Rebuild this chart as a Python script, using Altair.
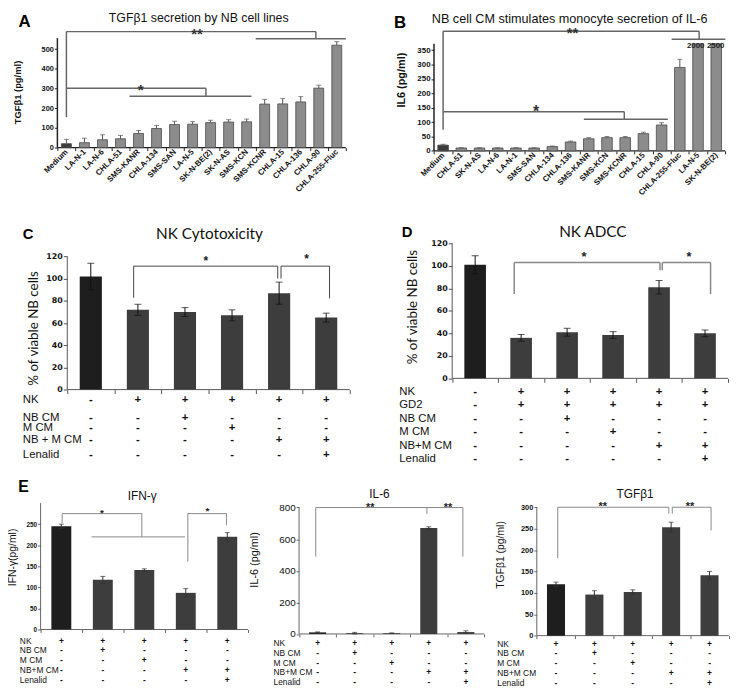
import json
import altair as alt
import pandas as pd

# ---------------- data ----------------
A_cats = ["Medium", "LA-N-1", "LA-N-6", "CHLA-51", "SMS-KANR", "CHLA-134", "SMS-SAN", "LA-N-5",
          "SK-N-BE(2)", "SK-N-AS", "SMS-KCN", "SMS-KCNR", "CHLA-15", "CHLA-136", "CHLA-90", "CHLA-255-Fluc"]
A_vals = [20, 25, 40, 45, 72, 97, 117, 119, 127, 130, 131, 221, 222, 232, 302, 520]
A_errs = [22, 23, 25, 17, 15, 15, 17, 13, 12, 12, 14, 24, 27, 27, 15, 18]

B_cats = ["Medium", "CHLA-51", "SK-N-AS", "LA-N-6", "LA-N-1", "SMS-SAN", "CHLA-134", "CHLA-136",
          "SMS-KANR", "SMS-KCN", "SMS-KCNR", "CHLA-15", "CHLA-90", "CHLA-255-Fluc", "LA-N-5", "SK-N-BE(2)"]
B_vals = [20, 10, 10, 10, 10, 10, 15, 31, 42, 46, 46, 60, 90, 290, 2000, 2500]
B_errs = [3, 1, 1, 1, 1, 1, 2, 3, 4, 4, 4, 5, 8, 28, 0, 0]

C_vals = [102, 72, 70, 67, 87, 65]
C_errs = [12, 5, 4, 5, 10, 4]
C_rows = ["NK", "NB CM", "M CM", "NB + M CM", "Lenalid"]
C_table = [["-", "+", "+", "+", "+", "+"],
           ["-", "-", "+", "-", "-", "-"],
           ["-", "-", "-", "+", "-", "-"],
           ["-", "-", "-", "-", "+", "+"],
           ["-", "-", "-", "-", "-", "+"]]

D_vals = [101, 36, 41, 38.5, 81, 40]
D_errs = [8, 3, 3.5, 3, 6, 3]
D_rows = ["NK", "GD2", "NB CM", "M CM", "NB+M CM", "Lenalid"]
D_table = [["-", "+", "+", "+", "+", "+"],
           ["-", "+", "+", "+", "+", "+"],
           ["-", "-", "+", "-", "-", "-"],
           ["-", "-", "-", "+", "-", "-"],
           ["-", "-", "-", "-", "+", "+"],
           ["-", "-", "-", "-", "-", "+"]]

E_rows = ["NK", "NB CM", "M CM", "NB+M CM", "Lenalid"]
E_table = [["+", "+", "+", "+", "+"],
           ["-", "+", "-", "-", "-"],
           ["-", "-", "+", "-", "-"],
           ["-", "-", "-", "+", "+"],
           ["-", "-", "-", "-", "+"]]
IFN_vals = [245, 118, 141, 87, 220]
IFN_errs = [5, 8, 3, 10, 10]
IL6_vals = [10, 5, 5, 670, 12]
IL6_errs = [3, 5, 2, 8, 8]
TGF_vals = [120, 96, 102, 253, 141]
TGF_errs = [5, 9, 5, 12, 9]

# significance brackets (category index units, value units)
A_br = [[0.5, 589, 14.34, 589], [0.5, 589, 0.5, 155], [14.34, 589, 14.34, 553], [11.0, 553, 16.0, 553],
        [0.5, 301, 8.24, 301], [8.24, 301, 8.24, 261], [4.0, 261, 10.77, 261]]
B_br = [[0.5, 416, 14.56, 416], [0.5, 416, 0.5, 73], [14.56, 416, 14.56, 388], [13.05, 388, 16.0, 388],
        [0.5, 136, 10.45, 136], [10.45, 136, 10.45, 110], [8.23, 110, 12.84, 110]]
C_br = [[1.41, 111.4, 4.47, 111.4], [1.41, 111.4, 1.41, 82.9], [4.47, 111.4, 4.47, 100.2],
        [4.54, 111.4, 5.57, 111.4], [4.54, 111.4, 4.54, 100.2], [5.57, 111.4, 5.57, 82.3]]
D_br = [[1.35, 103, 4.52, 103], [1.35, 103, 1.35, 75], [4.52, 103, 4.52, 96],
        [4.57, 103, 5.62, 103], [4.57, 103, 4.57, 96], [5.62, 103, 5.62, 75]]
E1_br = [[0.52, 275, 2.44, 275], [0.52, 275, 0.52, 252.6], [2.44, 275, 2.44, 219.8], [1.23, 219.8, 3.48, 219.8],
         [3.55, 275, 4.48, 275], [3.55, 275, 3.55, 161], [4.48, 275, 4.48, 247.3]]
E2_br = [[0.45, 800, 3.45, 800], [0.45, 800, 0.45, 490], [3.45, 800, 3.45, 760],
         [3.45, 800, 4.42, 800], [4.42, 800, 4.42, 490]]
E3_br = [[0.545, 300, 3.44, 300], [0.545, 300, 0.545, 181], [3.44, 300, 3.44, 285],
         [3.53, 300, 4.54, 300], [3.53, 300, 3.53, 285], [4.54, 300, 4.54, 246]]

ARIAL = "Liberation Sans"
CALI = "Lato"
VERD = "DejaVu Sans"


def T(x, y, t, font=ARIAL, size=12, weight="normal", color="#111", align="center", baseline="middle"):
    return dict(x=x, y=y, t=t, font=font, size=size, weight=weight, color=color, align=align, baseline=baseline)


def make_panel(p):
    vals, errs = p["vals"], p["errs"]
    n = len(vals)
    band = (p["ax_r"] - p["ax_l"]) / n
    ppu = p["ppu"]
    width = p["ax_r"] - p["orig"]
    height = p["base"] - p["row_top"]
    ext = float(p["ax_l"] - p["orig"])
    xs = alt.Scale(domain=[-ext / band, n], nice=False, zero=False, padding=0)
    ys = alt.Scale(domain=[0, height / ppu], nice=False, zero=False, padding=0)
    top = p["ax_top_val"]
    axc = p["axis_c"]

    bw = p["bw"]
    bdf = pd.DataFrame({"i": list(range(n)), "v": vals, "e": errs,
                        "col": [p["c0"]] + [p["c1"]] * (n - 1)})
    bdf["lo"] = bdf["i"] + (1 - bw) / 2
    bdf["hi"] = bdf["i"] + 1 - (1 - bw) / 2
    bdf["c"] = bdf["i"] + 0.5
    bdf["z"] = 0
    bdf["d"] = bdf["v"].clip(upper=top)   # bars running off the axis are cut at its top

    yk = dict(values=p["yticks"], domain=False, grid=False, ticks=True, tickSize=p["ytick"],
              tickColor=axc, labels=True,
              labelFont=p["ylab_font"], labelFontSize=p["ylab_size"], labelFontWeight=p["ylab_w"],
              labelColor="#111", labelPadding=1, labelFlush=False,
              title=p["ytitle"], titleFont=p["yt_font"], titleFontSize=p["yt_size"],
              titleFontWeight=p["yt_w"], titleColor="#111", titleX=p["yt_x"], titleY=p["yt_y"],
              titleAngle=270, titleAlign="center", titleBaseline="middle", orient="left")
    if ext > 0:
        yk["offset"] = -ext
    yaxis = alt.Axis(**yk)
    xtick_axis = alt.Axis(values=list(range(n + 1)), labels=False, domain=False, grid=False, ticks=True,
                          tickSize=p["xtick"], tickColor=axc, title=None, orient="bottom")

    layers = []

    # axis lines
    adf = pd.DataFrame([[0, 0, n, 0], [0, 0, 0, top]], columns=["x1", "y1", "x2", "y2"])
    layers.append(alt.Chart(adf).mark_rule(color=axc, strokeWidth=p["axis_w"]).encode(
        x=alt.X("x1:Q", scale=xs, axis=None), x2="x2:Q",
        y=alt.Y("y1:Q", scale=ys, axis=None), y2="y2:Q"))

    bar_kw = {}
    if p.get("bar_stroke"):
        bar_kw = dict(stroke=p["bar_stroke"], strokeWidth=0.8)
    layers.append(alt.Chart(bdf).mark_bar(orient="vertical", **bar_kw).encode(
        x=alt.X("lo:Q", scale=xs, axis=None),
        x2="hi:Q",
        y=alt.Y("d:Q", scale=ys, axis=None, stack=None),
        y2="z:Q",
        color=alt.Color("col:N", scale=None),
    ))

    # layer that carries the tick axes
    layers.append(alt.Chart(bdf).mark_tick(orient="horizontal", size=0.1, thickness=0.1, opacity=0).encode(
        x=alt.X("c:Q", scale=xs, axis=xtick_axis),
        y=alt.Y("z:Q", scale=ys, axis=yaxis)))

    edf = bdf[bdf["e"] > 0].copy()
    edf["top"] = edf["v"] + edf["e"]
    edf["bot"] = edf["v"] - edf["e"] if p["two_sided"] else edf["v"]
    label_axis = None
    if p.get("cats"):
        label_axis = alt.Axis(values=[i + 0.5 for i in range(n)],
                              labelExpr=json.dumps(p["cats"]) + "[floor(datum.value)]",
                              ticks=False, tickSize=0, domain=False, grid=False, labelAngle=-45,
                              labelAlign="right", labelBaseline="middle", labelFont=ARIAL,
                              labelFontSize=p["xlab_size"], labelFontWeight="bold", labelColor="#111",
                              labelPadding=3, labelOverlap=False, labelFlush=False, title=None,
                              orient="bottom")
    layers.append(alt.Chart(edf).mark_rule(color=p["err_c"], strokeWidth=1).encode(
        x=alt.X("c:Q", scale=xs, axis=label_axis),
        y=alt.Y("bot:Q", scale=ys, axis=None), y2="top:Q"))
    layers.append(alt.Chart(edf).mark_tick(orient="horizontal", size=p["cap"], thickness=1,
                                           color=p["err_c"]).encode(
        x=alt.X("c:Q", scale=xs, axis=None), y=alt.Y("top:Q", scale=ys, axis=None)))
    if p["two_sided"]:
        layers.append(alt.Chart(edf).mark_tick(orient="horizontal", size=p["cap"], thickness=1,
                                               color=p["err_c"]).encode(
            x=alt.X("c:Q", scale=xs, axis=None), y=alt.Y("bot:Q", scale=ys, axis=None)))

    # brackets
    gdf = pd.DataFrame(p["brackets"], columns=["x1", "y1", "x2", "y2"])
    layers.append(alt.Chart(gdf).mark_rule(color=p["br_c"], strokeWidth=p["br_w"]).encode(
        x=alt.X("x1:Q", scale=xs, axis=None), x2="x2:Q",
        y=alt.Y("y1:Q", scale=ys, axis=None), y2="y2:Q"))

    # texts
    for t in p["texts"]:
        tdf = pd.DataFrame([{"x": t["x"], "y": t["y"], "t": t["t"]}])
        layers.append(alt.Chart(tdf).mark_text(font=t["font"], fontSize=t["size"], fontWeight=t["weight"],
                                               color=t["color"], align=t["align"],
                                               baseline=t["baseline"]).encode(
            x=alt.X("x:Q", scale=xs, axis=None), y=alt.Y("y:Q", scale=ys, axis=None), text="t:N"))

    # condition table
    if p.get("rows"):
        rys = [-o / ppu for o in p["row_off"]]
        ldf = pd.DataFrame({"x": [p["row_x"]] * len(p["rows"]), "y": rys, "t": p["rows"]})
        sdf = pd.DataFrame([{"x": c + 0.5, "y": rys[r], "t": s}
                            for r, row in enumerate(p["table"]) for c, s in enumerate(row)])
        layers.append(alt.Chart(ldf).mark_text(font=ARIAL, fontSize=p["tab_size"], color="#111",
                                               align="left", baseline="middle").encode(
            x=alt.X("x:Q", scale=xs, axis=None), y=alt.Y("y:Q", scale=ys, axis=None), text="t:N"))
        layers.append(alt.Chart(sdf).mark_text(font=ARIAL, fontSize=p["tab_size"], fontWeight="bold",
                                               color="#111", align="center", baseline="middle").encode(
            x=alt.X("x:Q", scale=xs, axis=None), y=alt.Y("y:Q", scale=ys, axis=None), text="t:N"))

    return alt.layer(*layers).resolve_axis(x="independent", y="independent").properties(
        width=width, height=height, view=alt.ViewBackground(stroke="transparent", strokeWidth=0))


GRAY_A = dict(c0="#3d3d3d", c1="#8c8c8c", bar_stroke="#4a4a4a", err_c="#555", two_sided=False,
              axis_c="#222", axis_w=1.5, br_c="#666", br_w=1.5, xtick=3, ytick=3, cap=5)
DARK = dict(c0="#1e1e1e", c1="#3d3d3d", err_c="#111", two_sided=True)

pA = dict(GRAY_A, vals=A_vals, errs=A_errs, cats=A_cats, orig=35, ax_l=52, ax_r=344, base=138, ppu=0.1994,
          row_top=32.9, ax_top_val=556, bw=0.55, yticks=[0, 100, 200, 300, 400, 500],
          ylab_font=ARIAL, ylab_size=7.5, ylab_w="bold", ytitle="TGFβ1 (pg/ml)", yt_font=ARIAL, yt_size=9.5,
          yt_w="bold", yt_x=-40.7, yt_y=48.8, xlab_size=8, brackets=A_br,
          texts=[T(-1.82, 640, "A", size=17, weight="bold", color="#000"),
                 T(7.84, 656, "TGFβ1 secretion by NB cell lines", size=12.5),
                 T(7.74, 554, "**", size=15, weight="bold", color="#333", baseline="alphabetic"),
                 T(4.62, 267, "*", size=15.5, weight="bold", color="#333", baseline="alphabetic")])

pB = dict(GRAY_A, vals=B_vals, errs=B_errs, cats=B_cats, orig=344, ax_l=433.3, ax_r=728.3, base=141.3,
          ppu=0.2914, row_top=32.9, ax_top_val=372, bw=0.58, yticks=[0, 50, 100, 150, 200, 250, 300, 350],
          ylab_font=ARIAL, ylab_size=8, ylab_w="bold", ytitle="IL6 (pg/ml)", yt_font=ARIAL, yt_size=11,
          yt_w="bold", yt_x=-32.8, yt_y=36.3, xlab_size=8, brackets=B_br,
          texts=[T(-1.86, 445, "B", size=17, weight="bold", color="#000"),
                 T(7.45, 459, "NB cell CM stimulates monocyte secretion of IL-6", size=12.8),
                 T(7.61, 390.5, "**", size=15, weight="bold", color="#333", baseline="alphabetic"),
                 T(5.61, 119.4, "*", size=16, weight="bold", color="#333", baseline="alphabetic"),
                 T(14.37, 364.8, "2000", size=8, weight="bold", color="#222"),
                 T(15.47, 364.8, "2500", size=8, weight="bold", color="#222")])

pC = dict(DARK, vals=C_vals, errs=C_errs, orig=35, ax_l=62, ax_r=348, base=385.7, ppu=1.122, row_top=237.6,
          ax_top_val=120, bw=0.47, yticks=[0, 20, 40, 60, 80, 100, 120], ylab_font=VERD, ylab_size=8,
          ylab_w="bold", ytitle="% of viable NB cells", yt_font=CALI, yt_size=13.5, yt_w="normal",
          yt_x=-34.5, yt_y=85.7, axis_c="#555", axis_w=1, br_c="#444", br_w=1, xtick=4, ytick=4, cap=7,
          brackets=C_br, rows=C_rows, table=C_table, row_off=[11.0, 28.6, 39.3, 51.0, 66.0], row_x=-0.944,
          tab_size=11.5,
          texts=[T(-0.83, 140.6, "C", size=15, weight="bold", color="#000"),
                 T(3.02, 140.6, "NK Cytotoxicity", font=CALI, size=15.5),
                 T(2.94, 112.5, "*", size=12, weight="bold", color="#222", baseline="alphabetic"),
                 T(5.08, 114, "*", size=12, weight="bold", color="#222", baseline="alphabetic")])

pD = dict(DARK, vals=D_vals, errs=D_errs, orig=348, ax_l=451.7, ax_r=731, base=374.3, ppu=1.139,
          row_top=237.6, ax_top_val=120, bw=0.47, yticks=[0, 20, 40, 60, 80, 100, 120], ylab_font=VERD,
          ylab_size=8, ylab_w="bold", ytitle="% of viable NB cells", yt_font=CALI, yt_size=13.5,
          yt_w="normal", yt_x=-40, yt_y=64.1, axis_c="#555", axis_w=1, br_c="#888", br_w=1.5, xtick=4,
          ytick=4, cap=7, brackets=D_br, rows=D_rows, table=D_table,
          row_off=[13.4, 27.4, 40.7, 54.0, 68.4, 81.7], row_x=-1.15, tab_size=11.5,
          texts=[T(-0.98, 129.6, "D", size=15, weight="bold", color="#000"),
                 T(3.06, 130.2, "NK ADCC", font=CALI, size=15.5),
                 T(2.87, 104.6, "*", size=13, weight="bold", color="#222", baseline="alphabetic"),
                 T(5.15, 104.6, "*", size=13, weight="bold", color="#222", baseline="alphabetic")])

E_COMMON = dict(DARK, err_c="#333", axis_c="#666", axis_w=1, br_c="#888", br_w=1, xtick=3, ytick=3, cap=5,
                rows=E_rows, table=E_table, tab_size=8.5, yt_font=ARIAL, yt_w="normal")

pE1 = dict(E_COMMON, vals=IFN_vals, errs=IFN_errs, orig=35, ax_l=35, ax_r=245, base=635.5, ppu=0.4267,
           row_top=507.5, ax_top_val=300, bw=0.48, yticks=[0, 50, 100, 150, 200, 250, 300],
           ylab_font=ARIAL, ylab_size=6.5, ylab_w="bold", ytitle="IFN-γ(pg/ml)", yt_size=10.5, yt_x=-28,
           yt_y=54.5, brackets=E1_br, row_off=[11.8, 21.2, 30.5, 41.2, 51.2], row_x=-0.5,
           texts=[T(-0.41, 338.6, "E", size=16, weight="bold", color="#000"),
                  T(2.45, 317.6, "IFN-γ", size=12),
                  T(1.48, 270.4, "*", size=10, weight="bold", color="#222", baseline="alphabetic"),
                  T(4.02, 274, "*", size=10, weight="bold", color="#222", baseline="alphabetic")])

pE2 = dict(E_COMMON, vals=IL6_vals, errs=IL6_errs, orig=245, ax_l=296.7, ax_r=484.3, base=640, ppu=0.16,
           row_top=507.5, ax_top_val=800, bw=0.46, yticks=[0, 200, 400, 600, 800],
           ylab_font=ARIAL, ylab_size=10, ylab_w="normal", ytitle="IL-6 (pg/ml)", yt_size=11, yt_x=-44.7,
           yt_y=57, brackets=E2_br, row_off=[9.3, 19.3, 29.0, 39.0, 49.0], row_x=-0.69,
           texts=[T(2.17, 885.6, "IL-6", size=12),
                  T(1.92, 781, "**", size=11, weight="bold", color="#222", baseline="alphabetic"),
                  T(4.02, 781, "**", size=11, weight="bold", color="#222", baseline="alphabetic")])

pE3 = dict(E_COMMON, vals=TGF_vals, errs=TGF_errs, orig=484.3, ax_l=536.7, ax_r=731, base=641.7, ppu=0.4333,
           row_top=507.5, ax_top_val=300, bw=0.47, yticks=[0, 50, 100, 150, 200, 250, 300],
           ylab_font=ARIAL, ylab_size=7.5, ylab_w="bold", ytitle="TGFβ1 (pg/ml)", yt_size=10.5,
           yt_x=-36.7, yt_y=52, brackets=E3_br, row_off=[8.3, 17.6, 27.6, 38.3, 48.3], row_x=-1.03,
           texts=[T(2.56, 331, "TGFβ1", size=12),
                  T(1.72, 294.3, "**", size=11, weight="bold", color="#222", baseline="alphabetic"),
                  T(3.99, 294.3, "**", size=11, weight="bold", color="#222", baseline="alphabetic")])

row1 = alt.hconcat(make_panel(pA), make_panel(pB), spacing=0, bounds="flush")
row2 = alt.hconcat(make_panel(pC), make_panel(pD), spacing=0, bounds="flush")
row3 = alt.hconcat(make_panel(pE1), make_panel(pE2), make_panel(pE3), spacing=0, bounds="flush")

chart = alt.vconcat(alt.vconcat(row1, row2, spacing=28), row3, spacing=14).properties(
    padding={"left": 0, "top": 0, "right": 0, "bottom": 0}
).configure_view(stroke="transparent", strokeWidth=0).configure(background="white")

chart.save("out.html", embed_options={"renderer": "svg", "actions": False})
